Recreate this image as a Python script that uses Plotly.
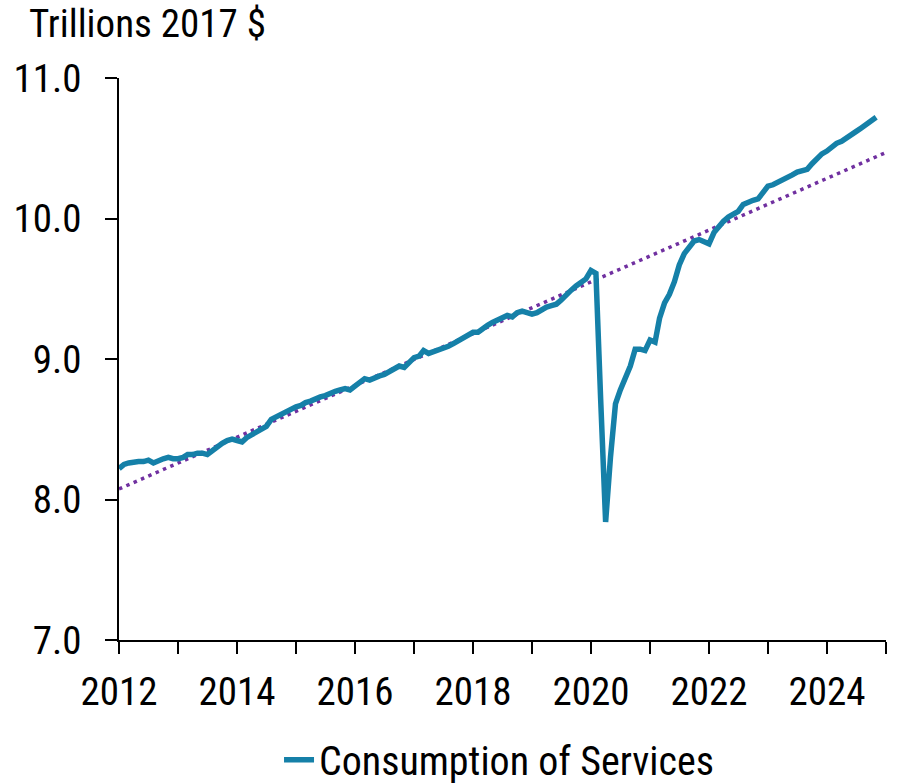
import pandas as pd
import plotly.graph_objects as go

# Real personal consumption expenditures on services, monthly, trillions of chained 2017 dollars
services_2012 = [8.22, 8.25, 8.26, 8.27, 8.27, 8.27, 8.28, 8.26, 8.28, 8.29, 8.30, 8.29]
services_2013 = [8.29, 8.30, 8.32, 8.32, 8.33, 8.33, 8.32, 8.35, 8.37, 8.40, 8.42, 8.43]
services_2014 = [8.42, 8.41, 8.44, 8.46, 8.48, 8.50, 8.52, 8.57, 8.59, 8.61, 8.63, 8.65]
services_2015 = [8.66, 8.67, 8.69, 8.70, 8.72, 8.73, 8.74, 8.76, 8.77, 8.78, 8.79, 8.78]
services_2016 = [8.81, 8.84, 8.86, 8.85, 8.87, 8.88, 8.89, 8.91, 8.93, 8.95, 8.94, 8.97]
services_2017 = [9.01, 9.02, 9.06, 9.04, 9.05, 9.07, 9.08, 9.09, 9.11, 9.13, 9.16, 9.18]
services_2018 = [9.19, 9.19, 9.22, 9.24, 9.26, 9.28, 9.30, 9.31, 9.30, 9.33, 9.34, 9.33]
services_2019 = [9.32, 9.33, 9.35, 9.37, 9.38, 9.39, 9.42, 9.46, 9.49, 9.52, 9.54, 9.57]
services_2020 = [9.63, 9.61, 8.72, 7.84, 8.30, 8.68, 8.78, 8.87, 8.95, 9.07, 9.07, 9.06]
services_2021 = [9.135, 9.12, 9.29, 9.40, 9.46, 9.55, 9.67, 9.75, 9.80, 9.84, 9.85, 9.84]
services_2022 = [9.82, 9.90, 9.94, 9.98, 10.01, 10.03, 10.05, 10.10, 10.12, 10.13, 10.14, 10.18]
services_2023 = [10.23, 10.24, 10.255, 10.27, 10.29, 10.31, 10.33, 10.34, 10.35, 10.39, 10.43, 10.46]
services_2024 = [10.48, 10.51, 10.535, 10.55, 10.57, 10.60, 10.62, 10.645, 10.67, 10.70, 10.72]

services = (services_2012 + services_2013 + services_2014 + services_2015 + services_2016
            + services_2017 + services_2018 + services_2019 + services_2020 + services_2021
            + services_2022 + services_2023 + services_2024)
months = pd.date_range("2012-01-01", periods=len(services), freq="MS")

# Pre-pandemic linear trend, drawn between its two end points
trend_dates = ["2012-01-01", "2025-01-01"]
trend_values = [8.075, 10.47]

y_ticks = [7.0, 8.0, 9.0, 10.0, 11.0]
x_label_years = ["2012", "2014", "2016", "2018", "2020", "2022", "2024"]

FONT = "Roboto Condensed, DejaVu Sans Condensed, sans-serif"
FONT_SIZE = 39
SERVICES_COLOR = "#1580a8"
TREND_COLOR = "#7030a0"

fig = go.Figure()
fig.add_trace(go.Scatter(
    x=trend_dates, y=trend_values, mode="lines",
    line=dict(color=TREND_COLOR, width=3.5, dash="3.5px,4.5px"),
    showlegend=False, hoverinfo="skip",
))
fig.add_trace(go.Scatter(
    x=months, y=services, mode="lines", name="Consumption of Services",
    line=dict(color=SERVICES_COLOR, width=5.5),
))

fig.update_layout(
    width=903, height=784,
    margin=dict(l=119, r=17, t=78, b=144),
    paper_bgcolor="white", plot_bgcolor="white",
    font=dict(family=FONT, size=FONT_SIZE, color="black"),
    legend=dict(
        orientation="h", xref="container", yref="container",
        x=0.309, xanchor="left", y=0.031, yanchor="middle",
        font=dict(family=FONT, size=40, color="black"),
        bgcolor="rgba(0,0,0,0)", itemwidth=30,
    ),
    annotations=[dict(
        text="Trillions 2017 $", xref="paper", yref="paper",
        x=-0.1203, y=1.0, xanchor="left", yanchor="bottom", yshift=29,
        showarrow=False, font=dict(family=FONT, size=FONT_SIZE, color="black"),
    )],
)

fig.update_xaxes(
    type="date", range=["2012-01-01", "2025-01-01"], automargin=False,
    tickvals=[y + "-01-01" for y in x_label_years], ticktext=x_label_years,
    ticks="outside", ticklen=12, tickwidth=1.5, tickcolor="black",
    minor=dict(dtick="M12", tick0="2012-01-01", ticks="outside", ticklen=12,
               tickwidth=1.5, tickcolor="black", showgrid=False),
    showline=True, linecolor="black", linewidth=1.5,
    showgrid=False, zeroline=False, ticklabelstandoff=4,
)
fig.update_yaxes(
    range=[7, 11], tickvals=y_ticks, tickformat=".1f", automargin=False,
    ticks="outside", ticklen=12, tickwidth=1.5, tickcolor="black",
    showline=True, linecolor="black", linewidth=1.5,
    showgrid=False, zeroline=False, ticklabelstandoff=16,
)

fig.write_html("out.html")
